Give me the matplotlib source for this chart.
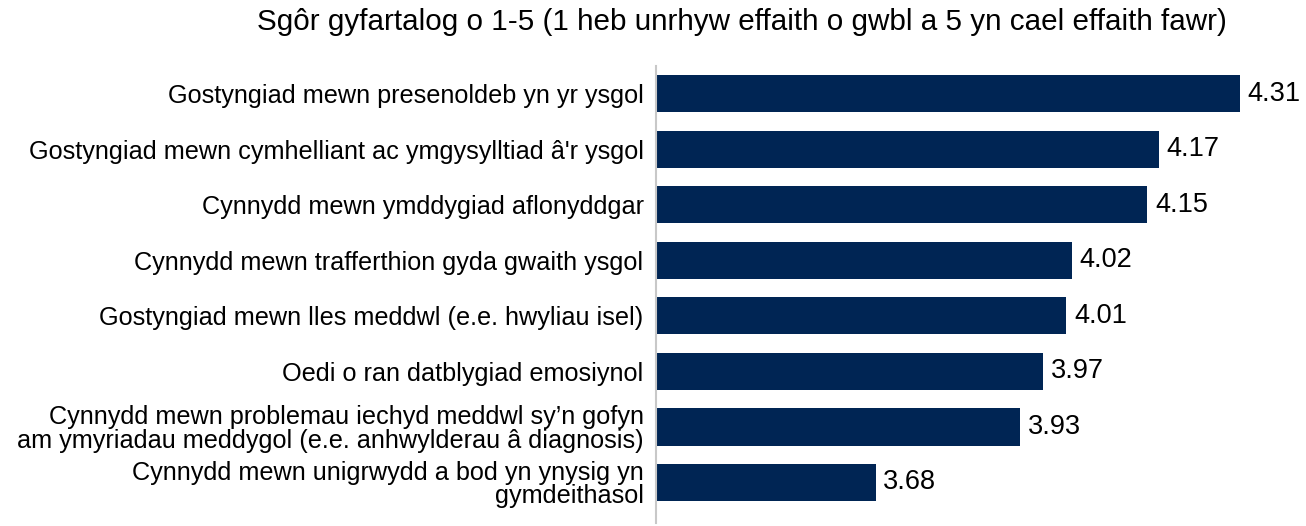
import matplotlib.pyplot as plt

plt.rcParams['font.family'] = ['Liberation Sans', 'DejaVu Sans']

# data
labels = [
    "Gostyngiad mewn presenoldeb yn yr ysgol",
    "Gostyngiad mewn cymhelliant ac ymgysylltiad â'r ysgol",
    "Cynnydd mewn ymddygiad aflonyddgar",
    "Cynnydd mewn trafferthion gyda gwaith ysgol",
    "Gostyngiad mewn lles meddwl (e.e. hwyliau isel)",
    "Oedi o ran datblygiad emosiynol",
    "Cynnydd mewn problemau iechyd meddwl sy\u2019n gofyn\nam ymyriadau meddygol (e.e. anhwylderau â diagnosis)",
    "Cynnydd mewn unigrwydd a bod yn ynysig yn\ngymdeithasol",
]
scores = [4.31, 4.17, 4.15, 4.02, 4.01, 3.97, 3.93, 3.68]
title = "Sgôr gyfartalog o 1-5 (1 heb unrhyw effaith o gwbl a 5 yn cael effaith fawr)"

BAR_COLOR = "#002554"

fig = plt.figure(figsize=(13.06, 5.26), dpi=100)
ax = fig.add_axes([0.5023, 0.0057, 0.4868, 0.8688])

pos = list(range(len(labels)))
ax.barh(pos, scores, height=0.67, left=0, color=BAR_COLOR)
ax.set_xlim(3.3, 4.4)
ax.set_ylim(7.73, -0.5)

for p, v in zip(pos, scores):
    ax.annotate("{:.2f}".format(v), xy=(v, p), xytext=(5.5, 0), textcoords="offset points",
                ha="left", va="center", fontsize=19.5, color="black")

ax.set_yticks(pos)
ax.set_yticklabels(labels, fontsize=18.2, linespacing=0.97)
ax.tick_params(axis="y", length=0, pad=9)
ax.set_xticks([])

for side in ["top", "right", "bottom"]:
    ax.spines[side].set_visible(False)
ax.spines["left"].set_color("#c8c8c8")
ax.spines["left"].set_linewidth(1.5)

fig.text(0.568, 0.958, title, ha="center", va="center", fontsize=21.3)

fig.savefig("out.png", dpi=100)
